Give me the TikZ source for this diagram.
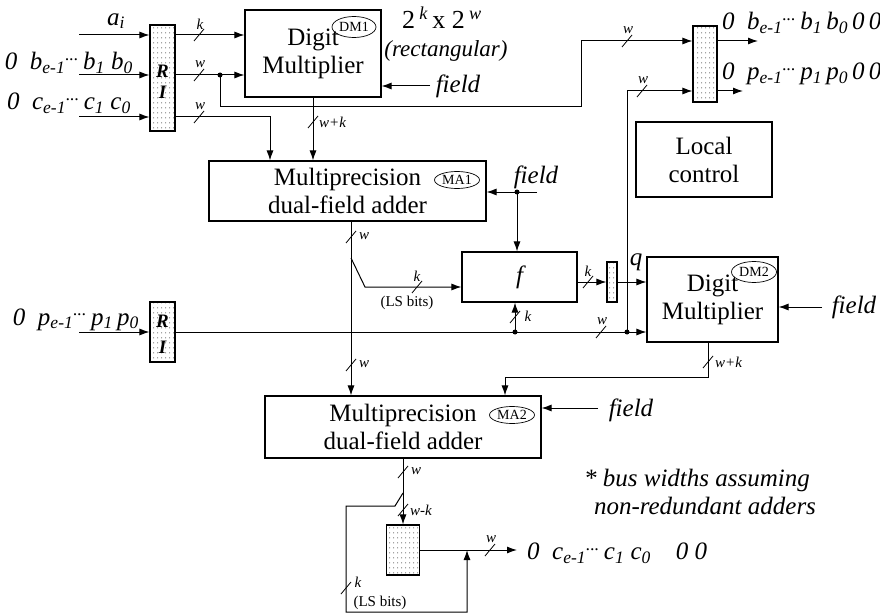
\documentclass[tikz,border=0pt]{standalone}
\usepackage{fontspec}
\setmainfont{Liberation Serif}
\usetikzlibrary{arrows.meta,shapes.geometric,patterns.meta}
\tikzdeclarepattern{
  name=regdots, type=uncolored,
  bounding box={(0pt,0pt) and (4pt,5pt)},
  tile size={(4pt,5pt)},
  code={\pgfpathcircle{\pgfpoint{2pt}{2.5pt}}{0.6pt}\pgfusepath{fill}}
}
\tikzset{
  blk/.style={draw,line width=1.1pt,align=center,inner sep=0pt,font=\fontsize{25}{28}\selectfont},
  reg/.style={draw,line width=1.1pt,pattern=regdots,pattern color=black!85,inner sep=0pt},
  regtxt/.style={inner sep=0pt,font=\fontsize{19}{19}\selectfont\bfseries\itshape},
  tag/.style={draw,ellipse,line width=0.7pt,inner sep=0pt,font=\fontsize{14}{14}\selectfont},
  ar/.style={-{Latex[length=10pt,width=7pt]},line width=1pt},
  ln/.style={line width=1pt},
  jn/.style={circle,fill,inner sep=0pt,minimum size=5pt},
  big/.style={inner sep=0pt,font=\fontsize{25}{28}\selectfont\itshape},
  lbl/.style={inner sep=0pt,font=\fontsize{15}{15}\selectfont\itshape},
  note/.style={inner sep=0pt,font=\fontsize{15}{15}\selectfont},
  bus/.pic={\draw[line width=0.8pt] (-5,6) -- (5,-6);},
}

\begin{document}
\begin{tikzpicture}[x=1pt,y=-1pt]
\useasboundingbox (0,0) rectangle (880,615);

% blocks
\node[blk,minimum width=136,minimum height=87] (dmone) at (313,53.5) {Digit\\Multiplier};
\node[blk,minimum width=277,minimum height=60] (maone) at (347.5,191) {Multiprecision\\dual-field adder};
\node[blk,minimum width=115,minimum height=50] (fbox) at (519.5,277) {\itshape f};
\node[blk,minimum width=131,minimum height=85] (dmtwo) at (712.5,299.5) {Digit\\Multiplier};
\node[blk,minimum width=276,minimum height=62] (matwo) at (403,427) {Multiprecision\\dual-field adder};
\node[blk,minimum width=136,minimum height=75] (ctrl) at (704,159.5) {Local\\control};

\node[tag,minimum width=44,minimum height=21] (tgdmone) at (354,27) {DM1};
\node[tag,minimum width=45,minimum height=21] (tgdmtwo) at (754,272) {DM2};
\node[tag,minimum width=45,minimum height=17] (tgmaone) at (457,180) {MA1};
\node[tag,minimum width=45,minimum height=17] (tgmatwo) at (512,415) {MA2};

% registers
\node[reg,minimum width=25,minimum height=106] (rione) at (162.5,78) {};
\node[regtxt] (rioneR) at (162.5,71) {R};
\node[regtxt] (rioneI) at (162.5,92) {I};
\node[reg,minimum width=25,minimum height=60] (ritwo) at (162.5,332) {};
\node[regtxt] (ritwoR) at (162.5,321) {R};
\node[regtxt] (ritwoI) at (162.5,347) {I};
\node[reg,minimum width=24,minimum height=76] (rgout) at (705,64) {};
\node[reg,minimum width=10,minimum height=40] (rgq) at (612,282) {};
\node[reg,minimum width=33,minimum height=50] (rgc) at (403,550) {};

% inputs
\coordinate (ain) at (79,35);
\coordinate (bin) at (79,75);
\coordinate (cin) at (79,117);
\coordinate (pin) at (79,332);
\node[big] (lai) at (116,21) {a\textsubscript{i}};
\node[big,anchor=base east] (lbin) at (133,70) {0\ \ b\textsubscript{e-1}\textsuperscript{...}\,b\textsubscript{1}\ b\textsubscript{0}};
\node[big,anchor=base east] (lcin) at (131,110) {0\ \ c\textsubscript{e-1}\textsuperscript{...}\,c\textsubscript{1}\ c\textsubscript{0}};
\node[big,anchor=base east] (lpin) at (139,325) {0\ \ p\textsubscript{e-1}\textsuperscript{...}\,p\textsubscript{1}\,p\textsubscript{0}};
\draw[ar] (ain) -- (rione.west |- ain);
\draw[ar] (bin) -- (rione.west |- bin);
\draw[ar] (cin) -- (rione.west |- cin);
\draw[ar] (pin) -- (ritwo.west |- pin);

% register 1 to DM1 / MA1
\draw[ar] (rione.east |- ain) -- (dmone.west |- ain);
\pic at (199,35) {bus};
\node[lbl] (lka) at (200,24) {k};
\draw[ar] (rione.east |- bin) -- (dmone.west |- bin);
\pic at (199,75) {bus};
\node[lbl] (lwb) at (200,64) {w};
\draw[ar] (rione.east |- cin) -| (maone.north -| 270,0);
\pic at (199,117) {bus};
\node[lbl] (lwc) at (200,106) {w};

\node[jn] (jb) at (220,75) {};
\coordinate (bturn) at (581,107);
\coordinate (btop) at (581,41);
\draw[ar] (jb.center) |- (bturn) -- (btop) -- (rgout.west |- btop);
\pic at (627,41) {bus};
\node[lbl] (lwt) at (628,30) {w};

% DM1
\node[big] (fldone) at (458,86) {field};
\coordinate (fonein) at (430,86);
\draw[ar] (fonein) -- (dmone.east |- fonein);
\node[inner sep=0pt,font=\fontsize{26}{26}\selectfont] (lsize) at (442,18) {2\,\textsuperscript{\itshape k}\,x 2\,\textsuperscript{\itshape w}};
\node[big,font=\fontsize{23}{23}\selectfont\itshape] (lrect) at (446,51) {(rectangular)};
\draw[ar] (dmone.south) -- (dmone.south |- maone.north);
\pic at (313,122) {bus};
\node[lbl,anchor=west] (lwka) at (319,122) {w+k};

% MA1
\node[big] (fldtwo) at (536,177) {field};
\coordinate (ftwoin) at (537,192);
\node[jn] (jf) at (517,192) {};
\draw[ar] (ftwoin) -- (maone.east |- ftwoin);
\draw[ar] (jf.center) -- (fbox.north -| jf);

\coordinate (mx) at (351,258);
\coordinate (mxk) at (365,287);
\draw[ar] (maone.south -| mx) -- (matwo.north -| mx);
\draw[ar] (mx) -- (mxk) -- (fbox.west |- mxk);
\pic at (351,237) {bus};
\node[lbl] (lwm) at (364,236) {w};
\pic at (417,287) {bus};
\node[lbl] (lkm) at (417,276) {k};
\node[note] (lls) at (407,303) {(LS bits)};
\pic at (351,365) {bus};
\node[lbl] (lwmm) at (364,364) {w};

% f and DM2
\draw[ar] (fbox.east |- rgq) -- (rgq.west);
\pic at (588,282) {bus};
\node[lbl] (lkf) at (588,271) {k};
\draw[ar] (rgq.east) -- (dmtwo.west |- rgq);
\node[big] (lq) at (636,262) {q};

\draw[ar] (ritwo.east |- pin) -- (dmtwo.west |- pin);
\pic at (601,332) {bus};
\node[lbl] (lwp) at (602,321) {w};
\node[jn] (jpa) at (515,332) {};
\node[jn] (jpb) at (627,332) {};
\draw[ar] (jpa.center) -- (fbox.south -| jpa);
\pic at (515,317) {bus};
\node[lbl] (lkp) at (528,316) {k};
\coordinate (ptop) at (627,91);
\draw[ar] (jpb.center) -- (ptop) -- (rgout.west |- ptop);
\pic at (642,91) {bus};
\node[lbl] (lwpt) at (643,80) {w};

% right register outputs
\coordinate (bout) at (758,41);
\coordinate (pout) at (743,91);
\draw[ar] (rgout.east |- bout) -- (bout);
\draw[ar] (rgout.east |- pout) -- (pout);
\node[big,anchor=base west] (lbout) at (722,30) {0\ \ b\textsubscript{e-1}\textsuperscript{...}\,b\textsubscript{1}\,b\textsubscript{0}\,0\,0};
\node[big,anchor=base west] (lpout) at (722,80) {0\ \ p\textsubscript{e-1}\textsuperscript{...}\,p\textsubscript{1}\,p\textsubscript{0}\,0\,0};

\node[big] (fldthree) at (854,307) {field};
\coordinate (fthreein) at (822,307);
\draw[ar] (fthreein) -- (dmtwo.east |- fthreein);

\coordinate (dtx) at (708,377);
\coordinate (dtl) at (505,377);
\draw[ar] (dmtwo.south -| dtx) -- (dtx) -- (dtl) -- (matwo.north -| dtl);
\pic at (708,362) {bus};
\node[lbl,anchor=west] (lwkb) at (715,362) {w+k};

% MA2
\node[big] (fldfour) at (631,410) {field};
\coordinate (ffourin) at (598,408);
\draw[ar] (ffourin) -- (matwo.east |- ffourin);

\coordinate (mtx) at (403,493);
\coordinate (mtk) at (395,506);
\coordinate (lpa) at (346,506);
\coordinate (lpb) at (346,612);
\coordinate (lpc) at (467,612);
\coordinate (cjn) at (467,550);
\coordinate (cout) at (517,550);
\draw[ar] (matwo.south) -- (rgc.north);
\pic at (403,472) {bus};
\node[lbl] (lwo) at (416,471) {w};
\pic at (403,510) {bus};
\node[lbl,anchor=west] (lwko) at (410,510) {w-k};
\draw[ar] (mtx) -- (mtk) -- (lpa) -- (lpb) -- (lpc) -- (cjn);
\pic at (346,588) {bus};
\node[lbl] (lko) at (358,582) {k};
\node[note] (llso) at (380,603) {(LS bits)};
\draw[ar] (rgc.east) -- (cout);
\pic at (490,550) {bus};
\node[lbl] (lwco) at (491,539) {w};
\node[big,anchor=west] (lcout) at (527,553) {0\ \ c\textsubscript{e-1}\textsuperscript{...}\,c\textsubscript{1}\ c\textsubscript{0}\quad 0\ 0};

% note
\node[big] (nta) at (697,480) {* bus widths assuming};
\node[big] (ntb) at (705,506) {non-redundant adders};
\end{tikzpicture}
\end{document}
